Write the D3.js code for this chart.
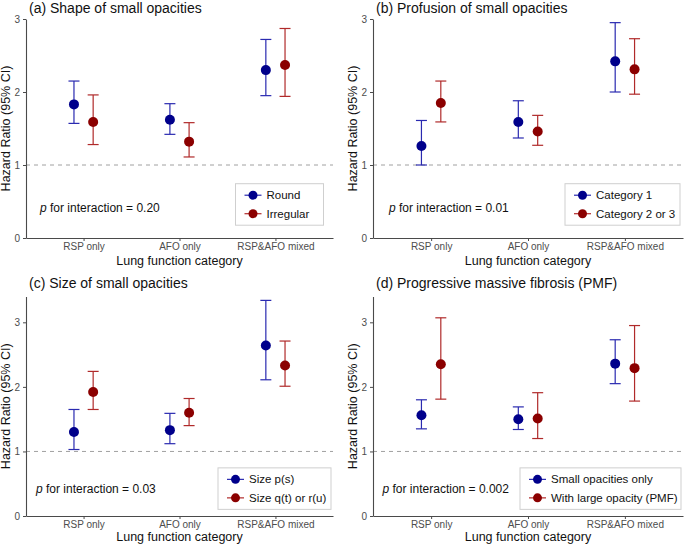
<!DOCTYPE html>
<html>
<head>
<meta charset="utf-8">
<script src="https://cdn.jsdelivr.net/npm/d3@7"></script>
<style>
  body { margin: 0; background: #fff; }
  svg { display: block; }
</style>
</head>
<body>
<div id="chart"></div>
<script>
// ---------- DATA ----------
const categories = ["RSP only", "AFO only", "RSP&AFO mixed"];
const yTicks = [0, 1, 2, 3];

const panelTitles = [
  "(a) Shape of small opacities",
  "(b) Profusion of small opacities",
  "(c) Size of small opacities",
  "(d) Progressive massive fibrosis (PMF)"
];
const seriesNamesA = ["Round", "Irregular"];
const seriesNamesB = ["Category 1", "Category 2 or 3"];
const seriesNamesC = ["Size p(s)", "Size q(t) or r(u)"];
const seriesNamesD = ["Small opacities only", "With large opacity (PMF)"];
const pValues = ["0.20", "0.01", "0.03", "0.002"];
const yMax = [3, 3, 3.4, 3.4];

// (a) Shape
const aRoundHR = [1.83, 1.62, 2.30];
const aRoundLo = [1.57, 1.42, 1.95];
const aRoundHi = [2.15, 1.84, 2.72];
const aIrregHR = [1.59, 1.32, 2.37];
const aIrregLo = [1.28, 1.11, 1.94];
const aIrregHi = [1.96, 1.58, 2.87];
// (b) Profusion
const bCat1HR = [1.26, 1.59, 2.42];
const bCat1Lo = [1.00, 1.37, 2.00];
const bCat1Hi = [1.61, 1.88, 2.95];
const bCat23HR = [1.85, 1.46, 2.31];
const bCat23Lo = [1.59, 1.27, 1.97];
const bCat23Hi = [2.15, 1.68, 2.73];
// (c) Size
const cPsHR = [1.30, 1.33, 2.64];
const cPsLo = [1.03, 1.12, 2.11];
const cPsHi = [1.65, 1.59, 3.34];
const cQtHR = [1.92, 1.60, 2.33];
const cQtLo = [1.65, 1.40, 2.01];
const cQtHi = [2.24, 1.82, 2.71];
// (d) PMF
const dSmallHR = [1.56, 1.50, 2.36];
const dSmallLo = [1.35, 1.34, 2.05];
const dSmallHi = [1.80, 1.69, 2.73];
const dLargeHR = [2.35, 1.51, 2.29];
const dLargeLo = [1.81, 1.20, 1.78];
const dLargeHi = [3.07, 1.91, 2.95];

const colors = { fill: ["#00008b", "#8b0000"], bar: ["#2a2ab0", "#b02a2a"] };

function mk(hr, lo, hi) { return hr.map((v, i) => ({ cat: categories[i], hr: v, lo: lo[i], hi: hi[i] })); }

const panels = [
  { title: panelTitles[0], names: seriesNamesA, p: pValues[0], ymax: yMax[0],
    series: [mk(aRoundHR, aRoundLo, aRoundHi), mk(aIrregHR, aIrregLo, aIrregHi)] },
  { title: panelTitles[1], names: seriesNamesB, p: pValues[1], ymax: yMax[1],
    series: [mk(bCat1HR, bCat1Lo, bCat1Hi), mk(bCat23HR, bCat23Lo, bCat23Hi)] },
  { title: panelTitles[2], names: seriesNamesC, p: pValues[2], ymax: yMax[2],
    series: [mk(cPsHR, cPsLo, cPsHi), mk(cQtHR, cQtLo, cQtHi)] },
  { title: panelTitles[3], names: seriesNamesD, p: pValues[3], ymax: yMax[3],
    series: [mk(dSmallHR, dSmallLo, dSmallHi), mk(dLargeHR, dLargeLo, dLargeHi)] }
];

// ---------- LAYOUT ----------
const W = 685, H = 545;
const layout = [
  { left: 26, right: 333, top: 19, bottom: 238, legX: 235.5, legW: 88, pX: 40, titleY: 13, xtY: 265 },
  { left: 373, right: 683, top: 19, bottom: 238, legX: 565, legW: 115, pX: 389, titleY: 13, xtY: 265 },
  { left: 26, right: 333, top: 296.5, bottom: 516, legX: 218, legW: 113, pX: 36, titleY: 288, xtY: 540.5 },
  { left: 373, right: 683, top: 296.5, bottom: 516, legX: 520, legW: 161, pX: 382.5, titleY: 288, xtY: 540.5 }
];
const sans = "'Liberation Sans', Arial, sans-serif";

const svg = d3.select("#chart").append("svg").attr("width", W).attr("height", H);

panels.forEach((pd, i) => {
  const L = layout[i];
  const g = svg.append("g");
  const x = d3.scalePoint().domain(categories).range([L.left, L.right]).padding(0.6);
  const y = d3.scaleLinear().domain([0, pd.ymax]).range([L.bottom, L.top]);
  const dodge = x.step() * 0.1;

  // reference line at HR=1
  g.append("line")
    .attr("x1", L.left).attr("x2", L.right)
    .attr("y1", y(1)).attr("y2", y(1))
    .attr("stroke", "#a0a0a0").attr("stroke-width", 1)
    .attr("stroke-dasharray", "4,4");

  // axes
  const yAx = g.append("g").attr("transform", `translate(${L.left},0)`)
    .call(d3.axisLeft(y).tickValues(yTicks).tickSize(3).tickSizeOuter(0).tickPadding(3).tickFormat(d3.format("d")));
  const xAx = g.append("g").attr("transform", `translate(0,${L.bottom})`)
    .call(d3.axisBottom(x).tickSize(3).tickSizeOuter(0).tickPadding(2));
  [yAx, xAx].forEach(ax => {
    ax.select(".domain").attr("stroke", "#4a4a4a").attr("stroke-width", 1.1);
    ax.selectAll(".tick line").attr("stroke", "#4a4a4a");
    ax.selectAll(".tick text").attr("fill", "#4d4d4d").style("font-family", sans).style("font-size", "10px");
  });

  // axis titles
  g.append("text")
    .attr("x", (L.left + L.right) / 2).attr("y", L.xtY)
    .attr("text-anchor", "middle")
    .style("font-family", sans).style("font-size", "12.5px").attr("fill", "#111")
    .text("Lung function category");
  g.append("text")
    .attr("transform", `translate(${L.left - 16.5},${(L.top + L.bottom) / 2}) rotate(-90)`)
    .attr("text-anchor", "middle")
    .style("font-family", sans).style("font-size", "12.5px").attr("fill", "#111")
    .text("Hazard Ratio (95% CI)");

  // title
  g.append("text")
    .attr("x", L.left + 3).attr("y", L.titleY)
    .style("font-family", sans).style("font-size", "14px").attr("fill", "#111")
    .text(pd.title);

  // series
  pd.series.forEach((s, k) => {
    const off = (k === 0 ? -1 : 1) * dodge;
    const sg = g.append("g");
    const items = sg.selectAll("g.pt").data(s).join("g").attr("class", "pt");
    items.append("line")
      .attr("x1", d => x(d.cat) + off).attr("x2", d => x(d.cat) + off)
      .attr("y1", d => y(d.lo)).attr("y2", d => y(d.hi))
      .attr("stroke", colors.bar[k]).attr("stroke-width", 1.2);
    ["lo", "hi"].forEach(key => {
      items.append("line")
        .attr("x1", d => x(d.cat) + off - 5.5).attr("x2", d => x(d.cat) + off + 5.5)
        .attr("y1", d => y(d[key])).attr("y2", d => y(d[key]))
        .attr("stroke", colors.bar[k]).attr("stroke-width", 1.2);
    });
    items.append("circle")
      .attr("cx", d => x(d.cat) + off).attr("cy", d => y(d.hr))
      .attr("r", 5).attr("fill", colors.fill[k]);
  });

  // p for interaction annotation
  const pt = g.append("text")
    .attr("x", L.pX).attr("y", y(0.36))
    .style("font-family", sans).style("font-size", "12px").attr("fill", "#111");
  pt.append("tspan").style("font-style", "italic").text("p");
  pt.append("tspan").text(" for interaction = " + pd.p);

  // legend
  const legTop = y(0.73) - 1, legH = 41.5;
  const lg = g.append("g");
  lg.append("rect")
    .attr("x", L.legX).attr("y", legTop).attr("width", L.legW).attr("height", legH)
    .attr("fill", "#fff").attr("stroke", "#cfcfcf").attr("stroke-width", 1);
  pd.names.forEach((nm, k) => {
    const cy = legTop + 11.5 + k * 18.5;
    const kx = L.legX + 9;
    lg.append("line").attr("x1", kx).attr("x2", kx + 17).attr("y1", cy).attr("y2", cy)
      .attr("stroke", colors.bar[k]).attr("stroke-width", 1.2);
    lg.append("circle").attr("cx", kx + 8.5).attr("cy", cy).attr("r", 4.5).attr("fill", colors.fill[k]);
    lg.append("text").attr("x", kx + 22).attr("y", cy).attr("dy", "0.35em")
      .style("font-family", sans).style("font-size", "11.5px").attr("fill", "#111")
      .text(nm);
  });
});
</script>
</body>
</html>
